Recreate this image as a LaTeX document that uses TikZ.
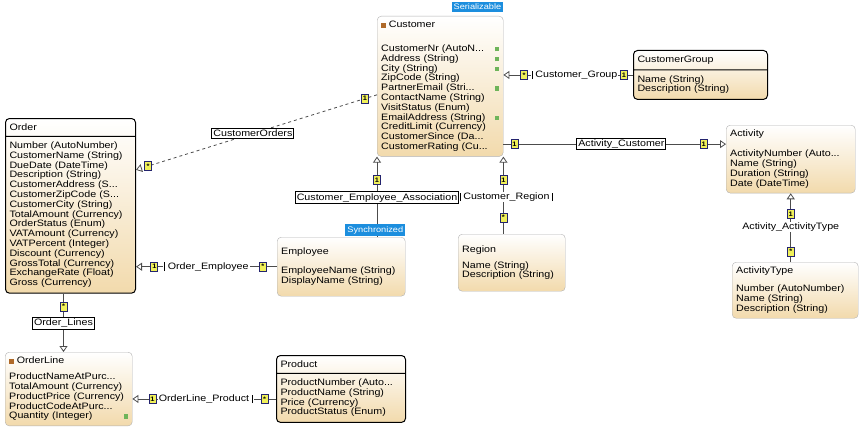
\documentclass[tikz,border=0pt]{standalone}
\usepackage{fontspec}
\newfontfamily\umlfamily{Liberation Sans}[FakeStretch=1.15]
\usepackage{xcolor}
\usetikzlibrary{arrows.meta, positioning, shapes.multipart, calc}
\definecolor{entitytan}{RGB}{242, 218, 172}
\definecolor{tagblue}{RGB}{28, 142, 222}
\definecolor{multyellow}{RGB}{240, 240, 90}
\definecolor{multnavy}{RGB}{35, 35, 110}
\definecolor{keygreen}{RGB}{110, 180, 90}
\definecolor{iconbrown}{RGB}{175, 105, 40}
\newcommand{\umlfont}{\umlfamily\fontsize{9.3}{9.8}\selectfont}
\newcommand{\labelfont}{\umlfamily\fontsize{9.3}{9.8}\selectfont}
\newcommand{\keyicon}{\hfill\textcolor{keygreen}{\rule{4.5pt}{4.5pt}}}
\newcommand{\entityicon}{\textcolor{iconbrown}{\rule{4.5pt}{4.5pt}}\ }

\begin{document}
\begin{tikzpicture}[x=1pt, y=-1pt,
    entity/.style={draw=black!30, rounded corners=4pt, top color=white, bottom color=entitytan,
                   anchor=north west, align=left, text width=#1, font=\umlfont,
                   inner xsep=4pt, inner ysep=5pt},
    entitysplit/.style={entity=#1, rectangle split, rectangle split parts=2,
                        draw=black, line width=1pt},
    link/.style={draw=black!70, line width=0.8pt},
    assoc/.style={draw=black, solid, line width=1pt, fill=white, font=\labelfont, inner sep=1.5pt},
    role/.style={fill=white, solid, font=\labelfont, inner sep=1pt},
    mult/.style={draw=multnavy, solid, line width=0.8pt, fill=multyellow,
                 font=\umlfamily\fontsize{6.5}{6.5}\selectfont\bfseries,
                 inner sep=0.5pt, minimum width=7pt, minimum height=9pt},
    tag/.style={fill=tagblue, text=white, font=\umlfamily\fontsize{8}{8}\selectfont,
                inner sep=2pt, anchor=south east}
]
    \useasboundingbox (0,0) rectangle (861,436);

    % entities
    \node[entity=118pt] (customer) at (377,16) {\entityicon Customer\\[14pt]
        CustomerNr (AutoN...\keyicon\\
        Address (String)\keyicon\\
        City (String)\keyicon\\
        ZipCode (String)\\
        PartnerEmail (Stri...\keyicon\\
        ContactName (String)\\
        VisitStatus (Enum)\\
        EmailAddress (String)\keyicon\\
        CreditLimit (Currency)\\
        CustomerSince (Da...\\
        CustomerRating (Cu...};
    \node[tag] (customertag) at ([yshift=4pt]customer.north east) {Serializable};

    \node[entitysplit=122pt] (order) at (5,118) {Order
        \nodepart{two}
        Number (AutoNumber)\\
        CustomerName (String)\\
        DueDate (DateTime)\\
        Description (String)\\
        CustomerAddress (S...\\
        CustomerZipCode (S...\\
        CustomerCity (String)\\
        TotalAmount (Currency)\\
        OrderStatus (Enum)\\
        VATAmount (Currency)\\
        VATPercent (Integer)\\
        Discount (Currency)\\
        GrossTotal (Currency)\\
        ExchangeRate (Float)\\
        Gross (Currency)};

    \node[entity=119pt] (orderline) at (5,352) {\entityicon OrderLine\\[6pt]
        ProductNameAtPurc...\\
        TotalAmount (Currency)\\
        ProductPrice (Currency)\\
        ProductCodeAtPurc...\\
        Quantity (Integer)\keyicon};

    \node[entitysplit=121pt] (product) at (276,355) {Product
        \nodepart{two}
        ProductNumber (Auto...\\
        ProductName (String)\\
        Price (Currency)\\
        ProductStatus (Enum)};

    \node[entity=120pt, minimum height=59pt] (employee) at (277,237) {Employee\\[9pt]
        EmployeeName (String)\\
        DisplayName (String)};

    \node[entity=99pt, minimum height=57pt] (region) at (458,234) {Region\\[6pt]
        Name (String)\\
        Description (String)};

    \node[entitysplit=126pt] (customergroup) at (633,50) {CustomerGroup
        \nodepart{two}
        Name (String)\\
        Description (String)};

    \node[entity=121pt] (activity) at (726,125) {Activity\\[10pt]
        ActivityNumber (Auto...\\
        Name (String)\\
        Duration (String)\\
        Date (DateTime)};

    \node[entity=118pt] (activitytype) at (732,262) {ActivityType\\[8pt]
        Number (AutoNumber)\\
        Name (String)\\
        Description (String)};

    % associations
    \draw[link, dashed, -{Triangle[open, length=6pt, width=8pt]}] ([yshift=-8.5pt]customer.west)
        -- node[mult, pos=0.05] (custordersone) {1}
           node[assoc, pos=0.515] (custorders) {CustomerOrders}
           node[mult, pos=0.95] (custordersmany) {*}
        ([yshift=36pt]order.east);

    \draw[link, -{Triangle[open, length=6pt, width=8pt]}] (customergroup.west)
        -- node[mult, pos=0.07] (custgroupone) {1}
           node[role, pos=0.45] (custgroup) {\vrule\ Customer\_Group}
           node[mult, pos=0.84] (custgroupmany) {*}
        (customergroup.west -| customer.east);

    \draw[link, -{Triangle[open, length=6pt, width=8pt]}] ([yshift=15pt]activity.west -| customer.east)
        -- node[mult, pos=0.05] (actcustone) {1}
           node[assoc, pos=0.53] (actcust) {Activity\_Customer}
           node[mult, pos=0.9] (actcusttwo) {1}
        ([yshift=15pt]activity.west);

    \draw[link, {Triangle[open, length=6pt, width=8pt]}-] (customer.south west)
        -- node[mult, pos=0.29] (custempone) {1}
           node[assoc, pos=0.51] (custemp) {Customer\_Employee\_Association}
        (customer.south west |- employee.north);
    \node[tag] (employeetag) at ([yshift=1pt]employee.north east) {Synchronized};

    \draw[link, {Triangle[open, length=6pt, width=8pt]}-] (customer.south east)
        -- node[mult, pos=0.3] (custregionone) {1}
           node[role, pos=0.52, xshift=3pt] (custregion) {\vrule\ Customer\_Region\ \vrule}
           node[mult, pos=0.79] (custregionmany) {*}
        (customer.south east |- region.north);

    \draw[link, -{Triangle[open, length=6pt, width=8pt]}] (employee.west)
        -- node[mult, pos=0.1] (orderempmany) {*}
           node[role, pos=0.5] (orderemp) {\vrule\ Order\_Employee}
           node[mult, pos=0.87] (orderempone) {1}
        (employee.west -| order.east);

    \draw[link, -{Triangle[open, length=6pt, width=8pt]}] ([xshift=-7pt]order.south)
        -- node[mult, pos=0.22] (orderlinesmany) {*}
           node[assoc, pos=0.51] (orderlines) {Order\_Lines}
        ([xshift=-7pt]order.south |- orderline.north);

    \draw[link, -{Triangle[open, length=6pt, width=8pt]}] ([yshift=-10pt]product.west)
        -- node[mult, pos=0.08] (lineproductmany) {*}
           node[role, pos=0.49] (lineproduct) {OrderLine\_Product\ \vrule}
           node[mult, pos=0.86] (lineproductone) {1}
        ([yshift=-10pt]product.west -| orderline.east);

    \draw[link, -{Triangle[open, length=6pt, width=8pt]}] (activity.south |- activitytype.north)
        -- node[mult, pos=0.15] (acttypemany) {*}
           node[role, pos=0.51] (acttype) {Activity\_ActivityType}
           node[mult, pos=0.7] (acttypeone) {1}
        (activity.south);
\end{tikzpicture}
\end{document}
